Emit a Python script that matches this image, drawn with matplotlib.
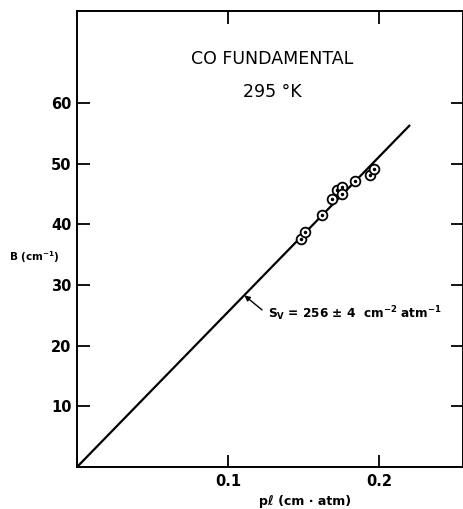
import matplotlib
matplotlib.use('Agg')
import matplotlib.pyplot as plt

# measured points (p*l in cm-atm, B in cm^-1)
pl = [0.1483, 0.1508, 0.1623, 0.1687, 0.1722, 0.1757, 0.1755, 0.1841, 0.1938, 0.1969]
B = [37.6, 38.7, 41.5, 44.2, 45.7, 46.1, 45.0, 47.1, 48.2, 49.2]

# fitted line S_v = 256 cm^-2 atm^-1
fit_x = [0.0, 0.2205]
fit_y = [0.0, 56.4]

xticks = [0.1, 0.2]
xticklabels = ['0.1', '0.2']
yticks = [10, 20, 30, 40, 50, 60]

plt.rcParams['font.family'] = ['DejaVu Sans']
plt.rcParams['mathtext.default'] = 'bf'

fig = plt.figure(figsize=(4.64, 5.09), dpi=100)
ax = fig.add_axes([0.166, 0.0825, 0.832, 0.896])

ax.plot(fit_x, fit_y, color='black', lw=1.6, solid_capstyle='butt')
ax.plot(pl, B, linestyle='none', marker='o', ms=7, mfc='white', mec='black', mew=1.3)
ax.plot(pl, B, linestyle='none', marker='o', ms=1.5, mfc='black', mec='black')

ax.set_xlim(0, 0.2556)
ax.set_ylim(0, 75.2)
ax.set_xticks(xticks)
ax.set_xticklabels(xticklabels, fontweight='bold')
ax.set_yticks(yticks)
ax.set_yticklabels([str(t) for t in yticks], fontweight='bold')
ax.tick_params(direction='in', length=9, width=1.3, labelsize=10.5, pad=4,
               top=True, right=True)
ax.tick_params(axis='x', pad=5)
for s in ax.spines.values():
    s.set_linewidth(1.4)

ax.text(0.1295, 67.2, 'CO FUNDAMENTAL', ha='center', va='center', fontsize=12.5)
ax.text(0.1295, 61.8, '295 °K', ha='center', va='center', fontsize=12.5)

# arrow from label to the fitted line
ax.annotate('', xy=(0.1108, 28.3), xytext=(0.1225, 25.9),
            arrowprops=dict(arrowstyle='-|>', color='black', lw=1.0,
                            mutation_scale=8, shrinkA=0, shrinkB=0))
ax.text(0.1262, 25.3, r'S$_\mathregular{V}$ = 256 ± 4  cm$^{-2}$ atm$^{-1}$',
        ha='left', va='center', fontsize=8.7, fontweight='bold')

fig.text(0.075, 0.495, 'B (cm$^{-1}$)', ha='center', va='center',
         fontsize=7.5, fontweight='bold')
fig.text(0.657, 0.014, 'pℓ (cm · atm)', ha='center', va='center',
         fontsize=9, fontweight='bold')

fig.savefig('out.png', dpi=100)
